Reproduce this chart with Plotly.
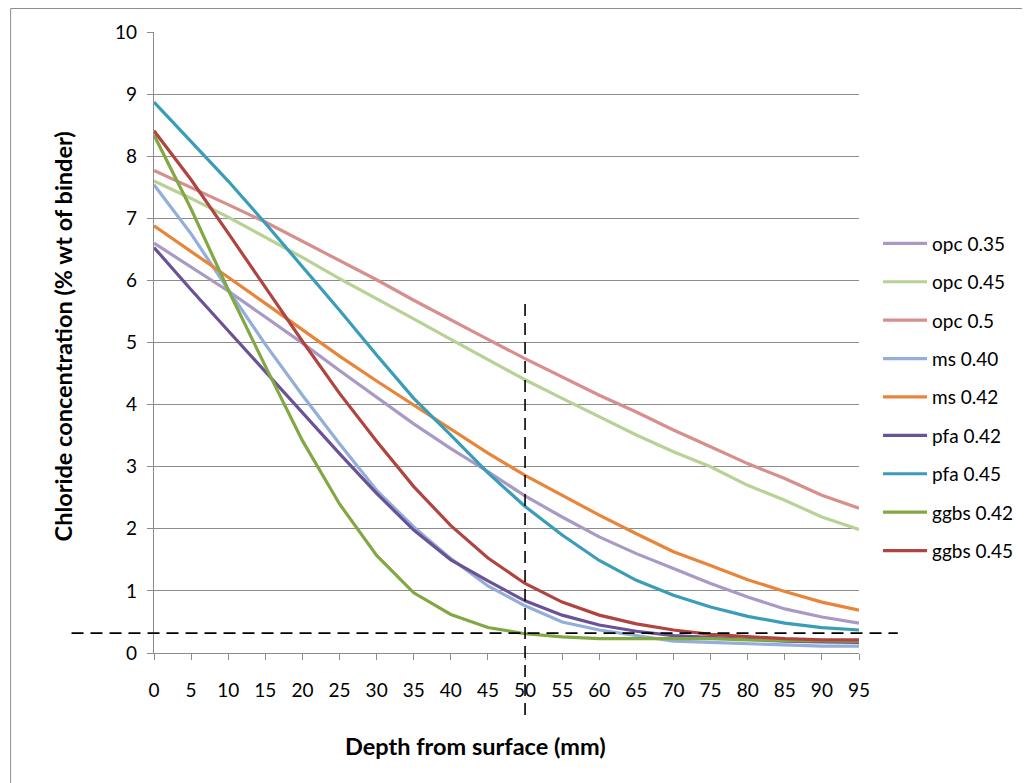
import plotly.graph_objects as go

depth = list(range(0, 100, 5))

series_names = ["opc 0.35", "opc 0.45", "opc 0.5", "ms 0.40", "ms 0.42",
                "pfa 0.42", "pfa 0.45", "ggbs 0.42", "ggbs 0.45"]

opc_035 = [6.60, 6.22, 5.83, 5.41, 4.99, 4.55, 4.12, 3.69, 3.29, 2.92, 2.53,
           2.19, 1.87, 1.60, 1.36, 1.12, 0.90, 0.71, 0.58, 0.48]
opc_045 = [7.60, 7.32, 7.02, 6.70, 6.37, 6.03, 5.71, 5.38, 5.05, 4.73, 4.40,
           4.10, 3.81, 3.51, 3.24, 3.00, 2.70, 2.46, 2.19, 1.99]
opc_05 = [7.77, 7.50, 7.22, 6.94, 6.63, 6.33, 6.01, 5.68, 5.36, 5.05, 4.74,
          4.45, 4.15, 3.88, 3.59, 3.32, 3.05, 2.81, 2.54, 2.33]
ms_040 = [7.54, 6.75, 5.85, 4.97, 4.15, 3.37, 2.62, 2.03, 1.52, 1.08, 0.76,
          0.50, 0.37, 0.28, 0.19, 0.17, 0.15, 0.12, 0.11, 0.11]
ms_042 = [6.88, 6.47, 6.05, 5.63, 5.20, 4.78, 4.38, 3.99, 3.60, 3.22, 2.86,
          2.54, 2.22, 1.92, 1.63, 1.41, 1.18, 0.99, 0.82, 0.69]
pfa_042 = [6.53, 5.85, 5.19, 4.53, 3.87, 3.21, 2.57, 1.98, 1.50, 1.16, 0.84,
           0.61, 0.45, 0.35, 0.28, 0.25, 0.21, 0.19, 0.18, 0.17]
pfa_045 = [8.87, 8.23, 7.60, 6.92, 6.22, 5.52, 4.80, 4.10, 3.51, 2.90, 2.36,
           1.90, 1.49, 1.17, 0.93, 0.74, 0.59, 0.48, 0.41, 0.37]
ggbs_042 = [8.34, 7.15, 5.85, 4.62, 3.42, 2.40, 1.57, 0.97, 0.62, 0.41, 0.31,
            0.26, 0.23, 0.23, 0.23, 0.23, 0.21, 0.20, 0.19, 0.19]
ggbs_045 = [8.41, 7.62, 6.76, 5.88, 5.02, 4.18, 3.41, 2.68, 2.05, 1.53, 1.12,
            0.82, 0.61, 0.47, 0.37, 0.30, 0.26, 0.23, 0.21, 0.21]

all_values = [opc_035, opc_045, opc_05, ms_040, ms_042,
              pfa_042, pfa_045, ggbs_042, ggbs_045]

colors = ["#A89AC5", "#B8D196", "#D68F8D", "#93AFD9", "#E8853A",
          "#6B5296", "#3A9DB8", "#82A844", "#B04440"]

threshold_conc = 0.32   # horizontal reference line (% wt of binder)
reference_depth = 50    # vertical reference line (mm)

FONT = "Lato, Open Sans, sans-serif"

fig = go.Figure()
for name, vals, col in zip(series_names, all_values, colors):
    fig.add_trace(go.Scatter(
        x=depth, y=vals, name=name, mode="lines",
        line=dict(color=col, width=3.2),
        legendgroup=name,
    ))

# dashed reference lines
fig.add_shape(type="line", xref="paper", yref="y",
              x0=-0.117, x1=1.055, y0=threshold_conc, y1=threshold_conc,
              line=dict(color="black", width=1.6, dash="12px,7px"))
fig.add_shape(type="line", xref="x", yref="paper",
              x0=reference_depth, x1=reference_depth, y0=-0.100, y1=0.562,
              line=dict(color="black", width=1.6, dash="12px,7px"))

# chart border (top and left edges visible, rest runs off the image)
fig.add_shape(type="rect", xref="paper", yref="paper",
              x0=-0.2034, x1=1.30, y0=-0.25, y1=1.0378,
              line=dict(color="#8C8C8C", width=1), fillcolor="rgba(0,0,0,0)",
              layer="below")

fig.add_annotation(text="<b>Chloride concentration (% wt of binder)</b>",
                   xref="paper", yref="paper", x=(63 - 154) / 708, y=(653 - 336) / 621,
                   xanchor="center", yanchor="middle",
                   textangle=-90, showarrow=False,
                   font=dict(family=FONT, size=23.5, color="#000000"))
fig.add_annotation(text="<b>Depth from surface (mm)</b>",
                   xref="paper", yref="paper", x=(477 - 154) / 708, y=(653 - 746) / 621,
                   xanchor="center", yanchor="middle",
                   showarrow=False,
                   font=dict(family=FONT, size=23.5, color="#000000"))

fig.update_layout(
    width=1022, height=775,
    margin=dict(l=146, r=168, t=24, b=130),
    paper_bgcolor="white", plot_bgcolor="white",
    font=dict(family=FONT, size=19, color="#000000"),
    showlegend=True,
    legend=dict(x=1.027, xanchor="left", y=0.69, yanchor="top",
                font=dict(family=FONT, size=19, color="#000000"),
                tracegroupgap=10.7, itemwidth=44,
                bgcolor="rgba(0,0,0,0)"),
)
fig.update_xaxes(range=[0, 95], tickvals=depth, ticktext=[str(d) for d in depth],
                 showgrid=False, zeroline=False, showline=True,
                 linecolor="#8C8C8C", linewidth=1.2,
                 ticks="outside", ticklen=6, tickcolor="#8C8C8C",
                 ticklabelstandoff=14,
                 tickfont=dict(family=FONT, size=19, color="#000000"))
fig.update_yaxes(range=[0, 10], dtick=1, tick0=0,
                 showgrid=True, gridcolor="#8C8C8C", gridwidth=1.2,
                 zeroline=False, showline=True,
                 linecolor="#8C8C8C", linewidth=1.2,
                 ticks="outside", ticklen=6, tickcolor="#8C8C8C",
                 ticklabelstandoff=6,
                 tickfont=dict(family=FONT, size=19, color="#000000"))

fig.write_html("out.html")
